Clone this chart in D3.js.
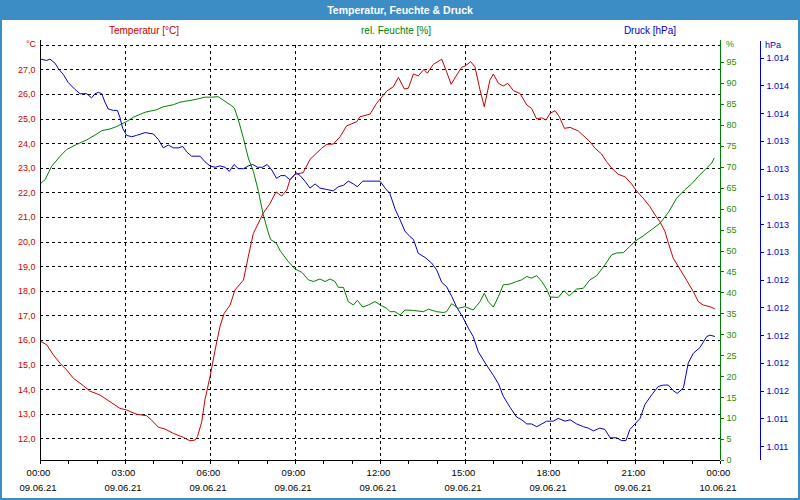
<!DOCTYPE html>
<html>
<head>
<meta charset="utf-8">
<script src="https://cdn.jsdelivr.net/npm/d3@7"></script>
<style>
  body { margin: 0; background: #fff; }
  svg { display: block; font-family: "Liberation Sans", Arial, sans-serif; }
</style>
</head>
<body>
<svg id="chart" width="800" height="500"></svg>
<script>
// hour of day, value  (09.06.21 00:00 .. 10.06.21 00:00)
const tempData = [
  [0.0,15.96],[0.24,15.8],[0.47,15.39],[0.71,15.05],[0.94,14.78],[1.18,14.44],[1.53,14.14],[1.76,13.92],
  [2.12,13.76],[2.47,13.49],[2.82,13.22],[3.06,13.15],[3.41,12.98],[3.76,12.92],[3.94,12.74],[4.18,12.45],
  [4.41,12.38],[4.71,12.2],[5.06,12.04],[5.29,11.9],[5.47,11.93],[5.56,12.07],[5.71,12.68],[5.82,13.56],
  [6.0,14.5],[6.18,15.59],[6.35,16.54],[6.5,17.08],[6.71,17.42],[6.88,18.03],[7.18,18.43],[7.35,19.38],
  [7.53,20.33],[7.88,21.15],[8.12,21.55],[8.33,22.02],[8.53,21.85],[8.71,22.09],[8.82,22.5],[9.0,22.73],
  [9.29,22.8],[9.53,23.34],[9.94,23.79],[10.12,23.95],[10.35,23.96],[10.59,24.26],[10.82,24.7],[11.18,24.87],
  [11.29,25.07],[11.65,25.18],[11.88,25.62],[12.24,26.12],[12.47,26.29],[12.65,26.67],[12.86,26.2],[13.0,26.23],
  [13.18,26.81],[13.35,26.73],[13.55,27.0],[13.67,26.84],[13.88,27.2],[14.18,27.41],[14.35,26.9],[14.51,26.39],
  [14.71,26.77],[14.88,27.08],[15.0,27.13],[15.2,27.31],[15.35,27.1],[15.53,26.16],[15.68,25.48],[15.88,26.56],
  [16.0,26.81],[16.18,26.43],[16.35,26.32],[16.51,26.43],[16.71,26.13],[16.94,26.02],[17.18,25.55],[17.35,25.41],
  [17.53,24.98],[17.71,25.03],[17.86,24.94],[18.0,25.21],[18.18,25.32],[18.33,25.07],[18.51,24.6],[18.71,24.64],
  [19.0,24.49],[19.24,24.24],[19.41,24.06],[19.59,23.79],[19.82,23.56],[20.0,23.24],[20.18,22.98],[20.41,22.73],
  [20.65,22.63],[20.88,22.34],[21.06,22.05],[21.29,21.76],[21.53,21.41],[21.71,21.08],[21.88,20.8],[22.06,20.4],
  [22.18,19.93],[22.35,19.32],[22.59,18.87],[22.82,18.43],[23.06,17.96],[23.24,17.55],[23.41,17.42],[23.65,17.35],
  [23.82,17.26]
];

const humData = [
  [0.0,65.9],[0.18,66.9],[0.41,70.1],[0.71,72.5],[0.94,74.1],[1.29,75.3],[1.65,76.4],[2.0,77.8],
  [2.18,78.6],[2.47,79.0],[2.71,79.6],[3.06,80.8],[3.29,81.8],[3.71,83.0],[4.12,83.6],[4.35,84.3],
  [4.71,84.8],[4.94,85.4],[5.29,85.8],[5.59,86.2],[5.82,86.6],[6.06,86.6],[6.29,86.7],[6.53,85.6],
  [6.71,84.8],[6.86,84.0],[7.0,81.2],[7.18,76.8],[7.35,72.1],[7.53,68.9],[7.71,64.1],[7.88,58.5],
  [8.06,54.2],[8.14,52.6],[8.33,51.8],[8.49,49.8],[8.76,47.4],[9.0,45.6],[9.24,44.8],[9.47,43.0],
  [9.65,42.6],[9.88,43.2],[10.06,42.6],[10.24,43.2],[10.41,42.6],[10.53,41.2],[10.71,41.2],[10.88,37.8],
  [11.06,37.0],[11.2,38.1],[11.39,36.5],[11.59,37.0],[11.82,37.8],[12.06,36.8],[12.24,36.2],[12.35,35.4],
  [12.53,35.4],[12.71,34.6],[12.88,35.8],[13.18,35.7],[13.53,35.4],[13.71,36.0],[14.0,35.4],[14.24,35.2],
  [14.35,35.4],[14.53,37.3],[14.76,36.2],[15.0,36.6],[15.29,35.8],[15.53,37.8],[15.68,39.8],[15.82,37.8],
  [16.0,36.5],[16.18,39.0],[16.35,41.8],[16.59,42.0],[16.82,42.6],[17.0,43.0],[17.18,43.8],[17.35,43.4],
  [17.53,44.0],[17.71,42.6],[17.88,40.8],[18.0,38.9],[18.29,38.8],[18.49,40.4],[18.68,39.2],[18.94,40.8],
  [19.18,41.0],[19.41,43.0],[19.65,44.0],[19.94,46.6],[20.18,49.0],[20.35,49.4],[20.59,49.5],[20.82,51.0],
  [21.0,52.2],[21.29,53.5],[21.53,54.7],[21.65,55.3],[21.88,56.5],[22.18,59.1],[22.47,62.5],[22.76,64.5],
  [23.0,65.9],[23.24,67.7],[23.53,69.7],[23.71,70.9],[23.8,72.1]
];

const pressData = [
  [0.0,1013.99],[0.24,1013.98],[0.35,1013.99],[0.53,1013.96],[0.65,1013.92],[0.82,1013.88],[1.0,1013.82],[1.24,1013.77],
  [1.41,1013.74],[1.65,1013.74],[1.82,1013.71],[1.94,1013.74],[2.06,1013.75],[2.18,1013.74],[2.29,1013.68],[2.41,1013.63],
  [2.59,1013.62],[2.73,1013.62],[2.82,1013.57],[2.92,1013.49],[3.06,1013.44],[3.24,1013.43],[3.41,1013.44],[3.71,1013.46],
  [4.0,1013.45],[4.18,1013.41],[4.35,1013.35],[4.53,1013.37],[4.71,1013.35],[4.88,1013.35],[5.04,1013.36],[5.18,1013.32],
  [5.35,1013.29],[5.65,1013.29],[5.82,1013.25],[6.0,1013.22],[6.18,1013.21],[6.35,1013.22],[6.53,1013.21],[6.68,1013.18],
  [6.85,1013.23],[7.0,1013.2],[7.18,1013.2],[7.35,1013.22],[7.51,1013.23],[7.68,1013.21],[7.85,1013.21],[8.02,1013.23],
  [8.18,1013.19],[8.35,1013.13],[8.5,1013.15],[8.65,1013.15],[8.82,1013.12],[9.04,1013.17],[9.18,1013.15],[9.35,1013.11],
  [9.53,1013.06],[9.71,1013.09],[9.88,1013.06],[10.12,1013.05],[10.35,1013.04],[10.53,1013.07],[10.71,1013.08],[10.88,1013.11],
  [11.06,1013.09],[11.2,1013.07],[11.39,1013.11],[11.53,1013.11],[11.76,1013.11],[12.0,1013.11],[12.18,1013.06],[12.35,1013.02],
  [12.53,1012.91],[12.71,1012.83],[12.88,1012.75],[13.06,1012.71],[13.18,1012.69],[13.35,1012.59],[13.59,1012.56],[13.82,1012.52],
  [14.0,1012.47],[14.18,1012.38],[14.35,1012.35],[14.53,1012.28],[14.71,1012.2],[14.92,1012.13],[15.12,1012.05],[15.29,1011.99],
  [15.47,1011.88],[15.71,1011.8],[16.0,1011.71],[16.18,1011.65],[16.35,1011.56],[16.59,1011.48],[16.82,1011.41],[17.0,1011.39],
  [17.18,1011.36],[17.35,1011.36],[17.53,1011.34],[17.71,1011.36],[17.88,1011.38],[18.12,1011.38],[18.29,1011.4],[18.53,1011.38],
  [18.71,1011.39],[18.94,1011.36],[19.18,1011.34],[19.35,1011.33],[19.53,1011.31],[19.76,1011.33],[19.94,1011.32],[20.12,1011.26],
  [20.35,1011.26],[20.53,1011.24],[20.68,1011.24],[20.82,1011.32],[21.0,1011.36],[21.18,1011.4],[21.35,1011.5],[21.59,1011.57],
  [21.82,1011.63],[22.0,1011.64],[22.18,1011.64],[22.35,1011.6],[22.49,1011.58],[22.71,1011.62],[22.88,1011.8],[23.06,1011.87],
  [23.29,1011.91],[23.53,1011.99],[23.65,1012.0],[23.82,1011.99]
];

const tempTicks = [12, 13, 14, 15, 16, 17, 18, 19, 20, 21, 22, 23, 24, 25, 26, 27];
const humTicks = [0, 5, 10, 15, 20, 25, 30, 35, 40, 45, 50, 55, 60, 65, 70, 75, 80, 85, 90, 95];
const pressTicks = [1011.2, 1011.4, 1011.6, 1011.8, 1012.0, 1012.2, 1012.4, 1012.6, 1012.8,
                    1013.0, 1013.2, 1013.4, 1013.6, 1013.8, 1014.0];
const labelHours = [0, 3, 6, 9, 12, 15, 18, 21, 24];

const title = 'Temperatur, Feuchte & Druck';
const seriesNames = ['Temperatur [°C]', 'rel. Feuchte [%]', 'Druck [hPa]'];

const red = '#cc0000', green = '#008000', blue = '#0000cc', frame = '#3c8dc5';

const de = d3.formatLocale({ decimal: ',', thousands: '.', grouping: [3], currency: ['', ' €'] });
const fmtTemp = de.format('.1f');
const fmtPress = de.format(',.0f');
const fmtTime = d3.timeFormat('%H:%M');
const fmtDate = d3.timeFormat('%d.%m.%y');

const day0 = new Date(2021, 5, 9);
const atHour = h => new Date(+day0 + h * 3600e3);

const plotLeft = 40, plotRight = 720, plotTop = 42, plotBottom = 460;

const x = d3.scaleTime().domain([atHour(0), atHour(24)]).range([plotLeft, plotRight]);
const yT = d3.scaleLinear().domain([11.12, 28.11]).range([plotBottom, plotTop]);
const yH = d3.scaleLinear().domain([0, 100]).range([plotBottom, 41]);
const yP = d3.scaleLinear().domain([1011.1, 1014.113]).range([plotBottom, plotTop]);

const svg = d3.select('#chart');

// frame + title bar
svg.append('rect').attr('width', 800).attr('height', 500).attr('fill', '#fff');
svg.append('rect').attr('x', 1).attr('y', 1).attr('width', 798).attr('height', 498)
  .attr('fill', 'none').attr('stroke', frame).attr('stroke-width', 2);
svg.append('rect').attr('width', 800).attr('height', 20).attr('fill', frame);
svg.append('text').attr('x', 400).attr('y', 10).attr('dy', '0.35em')
  .attr('text-anchor', 'middle').attr('fill', '#fff')
  .style('font-weight', 'bold').style('font-size', '10.5px').text(title);

// series captions
svg.selectAll('text.caption')
  .data(seriesNames)
  .enter()
  .append('text')
  .attr('class', 'caption')
  .attr('x', (d, i) => [144, 396, 650][i])
  .attr('y', 30).attr('dy', '0.35em')
  .attr('text-anchor', 'middle')
  .style('font-size', '10px')
  .attr('fill', (d, i) => [red, green, blue][i])
  .text(d => d);

// grid
const grid = svg.append('g').attr('shape-rendering', 'crispEdges')
  .attr('stroke', '#000').attr('stroke-dasharray', '3,3');
grid.selectAll('line.h')
  .data(tempTicks.concat([28]))
  .enter()
  .append('line')
  .attr('x1', plotLeft).attr('x2', plotRight)
  .attr('y1', d => Math.round(yT(d)) + 0.5).attr('y2', d => Math.round(yT(d)) + 0.5);
grid.selectAll('line.v')
  .data(labelHours.slice(1, -1))
  .enter()
  .append('line')
  .attr('x1', d => Math.round(x(atHour(d))) + 0.5).attr('x2', d => Math.round(x(atHour(d))) + 0.5)
  .attr('y1', Math.round(yT(28))).attr('y2', plotBottom);

// lines
const line = (yScale) => d3.line().x(d => x(atHour(d[0]))).y(d => yScale(d[1]));
const plot = svg.append('g');
plot.append('path').attr('d', line(yP)(pressData))
  .attr('fill', 'none').attr('stroke', blue).attr('stroke-width', 1);
plot.append('path').attr('d', line(yH)(humData))
  .attr('fill', 'none').attr('stroke', green).attr('stroke-width', 1);
plot.append('path').attr('d', line(yT)(tempData))
  .attr('fill', 'none').attr('stroke', red).attr('stroke-width', 1);

// left temperature axis
const axT = svg.append('g').attr('transform', `translate(${plotLeft + 0.5},0)`)
  .call(d3.axisLeft(yT).tickValues(tempTicks).tickFormat(fmtTemp).tickSize(0).tickPadding(5));
axT.select('.domain').attr('d', `M0,40V${plotBottom}`).attr('stroke', '#000');
axT.selectAll('text').attr('fill', red).style('font-size', '9px').attr('font-family', null);
svg.append('text').attr('x', 36).attr('y', 44).attr('dy', '0.35em').attr('text-anchor', 'end')
  .attr('fill', red).style('font-size', '9px').text('°C');

// humidity axis
const axH = svg.append('g').attr('transform', `translate(${plotRight + 0.5},0)`)
  .call(d3.axisRight(yH).tickValues(humTicks).tickSize(3).tickPadding(3));
axH.select('.domain').attr('d', `M0,40V${plotBottom}`).attr('stroke', green);
axH.selectAll('line').attr('stroke', green);
axH.selectAll('text').attr('fill', '#2e8b00').style('font-size', '9px').attr('font-family', null);
svg.append('text').attr('x', 726).attr('y', 44).attr('dy', '0.35em')
  .attr('fill', '#2e8b00').style('font-size', '9px').text('%');

// pressure axis
const axP = svg.append('g').attr('transform', 'translate(760.5,0)')
  .call(d3.axisRight(yP).tickValues(pressTicks).tickFormat(fmtPress).tickSize(3).tickPadding(3));
axP.select('.domain').attr('d', `M0,41V${plotBottom}`).attr('stroke', blue);
axP.selectAll('line').attr('stroke', blue);
axP.selectAll('text').attr('fill', blue).style('font-size', '9px').attr('font-family', null);
svg.append('text').attr('x', 765).attr('y', 45).attr('dy', '0.35em')
  .attr('fill', blue).style('font-size', '9px').text('hPa');

// time axis
const axX = svg.append('g').attr('transform', `translate(0,${plotBottom + 0.5})`)
  .call(d3.axisBottom(x).ticks(d3.timeHour.every(1)).tickFormat('').tickSize(3));
axX.select('.domain').attr('d', `M${plotLeft},0H${plotRight}`).attr('stroke', '#000');
axX.selectAll('line').attr('stroke', '#000');

const xl = svg.append('g').style('font-size', '9.5px').attr('fill', '#000').attr('text-anchor', 'middle');
xl.selectAll('text.t')
  .data(labelHours)
  .enter()
  .append('text')
  .attr('class', 't')
  .attr('x', d => x(atHour(d)) - 1.5)
  .attr('y', 473).attr('dy', '0.35em')
  .text(d => fmtTime(atHour(d)));
xl.selectAll('text.d')
  .data(labelHours)
  .enter()
  .append('text')
  .attr('class', 'd')
  .attr('x', d => x(atHour(d)) - 2)
  .attr('y', 488).attr('dy', '0.35em')
  .text(d => fmtDate(atHour(d)));

svg.selectAll('.domain, .tick line').attr('shape-rendering', 'crispEdges');
</script>
</body>
</html>
